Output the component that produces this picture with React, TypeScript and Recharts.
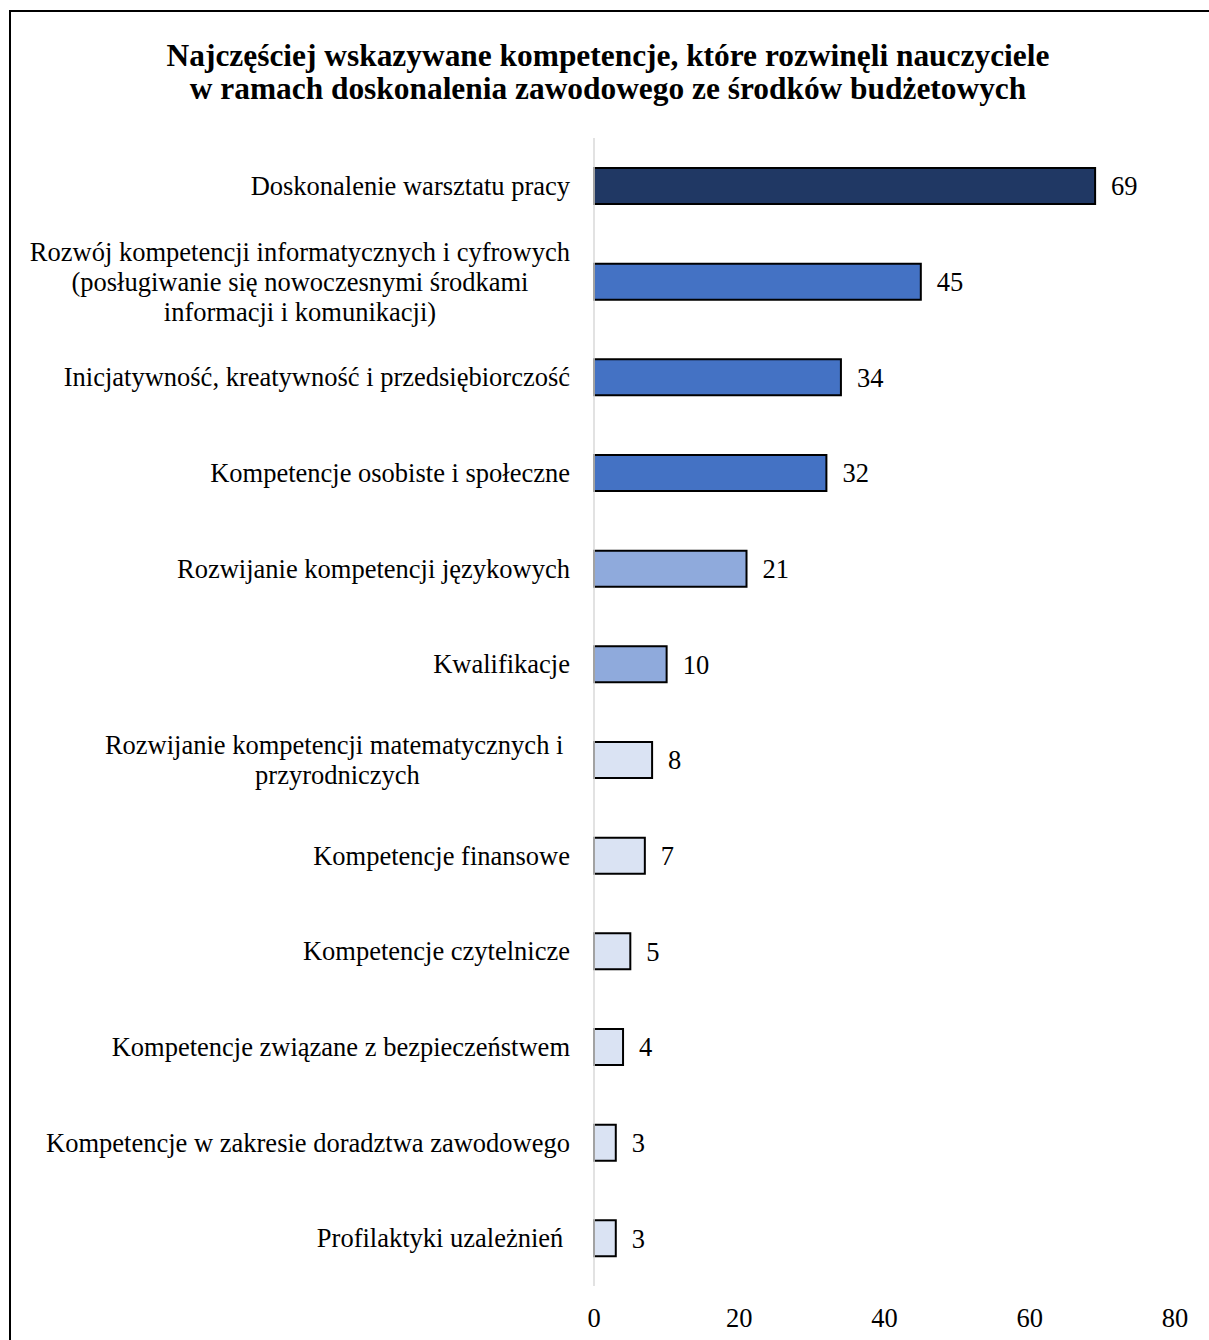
import React from "react";
import { BarChart, Bar, XAxis, YAxis, Cell, LabelList } from "recharts";

const categories = [
  "Doskonalenie warsztatu pracy",
  "Rozwój kompetencji informatycznych i cyfrowych\n(posługiwanie się nowoczesnymi środkami\ninformacji i komunikacji)",
  "Inicjatywność, kreatywność i przedsiębiorczość",
  "Kompetencje osobiste i społeczne",
  "Rozwijanie kompetencji językowych",
  "Kwalifikacje",
  "Rozwijanie kompetencji matematycznych i \nprzyrodniczych",
  "Kompetencje finansowe",
  "Kompetencje czytelnicze",
  "Kompetencje związane z bezpieczeństwem",
  "Kompetencje w zakresie doradztwa zawodowego",
  "Profilaktyki uzależnień ",
];

const values = [69, 45, 34, 32, 21, 10, 8, 7, 5, 4, 3, 3];

const barColors = [
  "#203864",
  "#4472c4",
  "#4472c4",
  "#4472c4",
  "#8faadc",
  "#8faadc",
  "#dae3f3",
  "#dae3f3",
  "#dae3f3",
  "#dae3f3",
  "#dae3f3",
  "#dae3f3",
];

const xTicks = [0, 20, 40, 60, 80];

const FONT = "'Liberation Serif', 'Times New Roman', serif";
const FONT_SIZE = 26.5;
const LINE_H = 30;

const data = categories.map((name, i) => ({ name, value: values[i] }));

let ctx: CanvasRenderingContext2D | null = null;
function textWidth(s: string) {
  if (!ctx) {
    const c = document.createElement("canvas");
    ctx = c.getContext("2d");
  }
  if (!ctx) return s.length * 12;
  ctx.font = `${FONT_SIZE}px ${FONT}`;
  return ctx.measureText(s).width;
}

// multi-line label: lines centered inside a block that is right-aligned at x
function CategoryTick(props: any) {
  const { x, y, payload } = props;
  const lines: string[] = String(payload.value).split("\n");
  const maxW = Math.max(...lines.map((l) => textWidth(l)));
  const cx = x - maxW / 2;
  const startY = y - ((lines.length - 1) * LINE_H) / 2;
  return (
    <text
      x={cx}
      y={startY}
      textAnchor="middle"
      fontFamily={FONT}
      fontSize={FONT_SIZE}
      fill="#000"
      style={{ whiteSpace: "pre" }}
    >
      {lines.map((l, i) => (
        <tspan key={i} x={cx} dy={i === 0 ? "0.35em" : LINE_H}>
          {l}
        </tspan>
      ))}
    </text>
  );
}

export default function App() {
  return (
    <div
      style={{
        position: "absolute",
        left: 0,
        top: 0,
        width: 1209,
        height: 1340,
        overflow: "hidden",
        background: "#fff",
        fontFamily: FONT,
      }}
    >
      <div
        style={{
          position: "absolute",
          left: 9,
          top: 10,
          width: 1400,
          height: 1500,
          border: "2px solid #000",
        }}
      />
      <div
        style={{
          position: "absolute",
          left: 0,
          top: 39,
          width: 1216,
          textAlign: "center",
          fontWeight: "bold",
          fontSize: 31.4,
          lineHeight: "33px",
          color: "#000",
        }}
      >
        Najczęściej wskazywane kompetencje, które rozwinęli nauczyciele
        <br />w ramach doskonalenia zawodowego ze środków budżetowych
      </div>
      <div style={{ position: "absolute", left: 0, top: 0 }}>
        <BarChart
          width={1209}
          height={1340}
          data={data}
          layout="vertical"
          margin={{ top: 138, right: 34, bottom: 24, left: 0 }}
          barSize={36}
        >
          <XAxis
            type="number"
            domain={[0, 80]}
            ticks={xTicks}
            axisLine={false}
            tickLine={false}
            tickMargin={16}
            height={30}
            tick={{ fill: "#000", fontSize: FONT_SIZE, fontFamily: FONT }}
          />
          <YAxis
            type="category"
            dataKey="name"
            width={594}
            axisLine={{ stroke: "#d9d9d9", strokeWidth: 1.5 }}
            tickLine={false}
            tickMargin={18}
            interval={0}
            tick={<CategoryTick />}
          />
          <Bar dataKey="value" stroke="#000" strokeWidth={2} isAnimationActive={false}>
            {data.map((d, i) => (
              <Cell key={d.name} fill={barColors[i]} />
            ))}
            <LabelList
              dataKey="value"
              position="right"
              offset={16}
              fill="#000"
              fontSize={FONT_SIZE}
              fontFamily={FONT}
            />
          </Bar>
        </BarChart>
      </div>
    </div>
  );
}
